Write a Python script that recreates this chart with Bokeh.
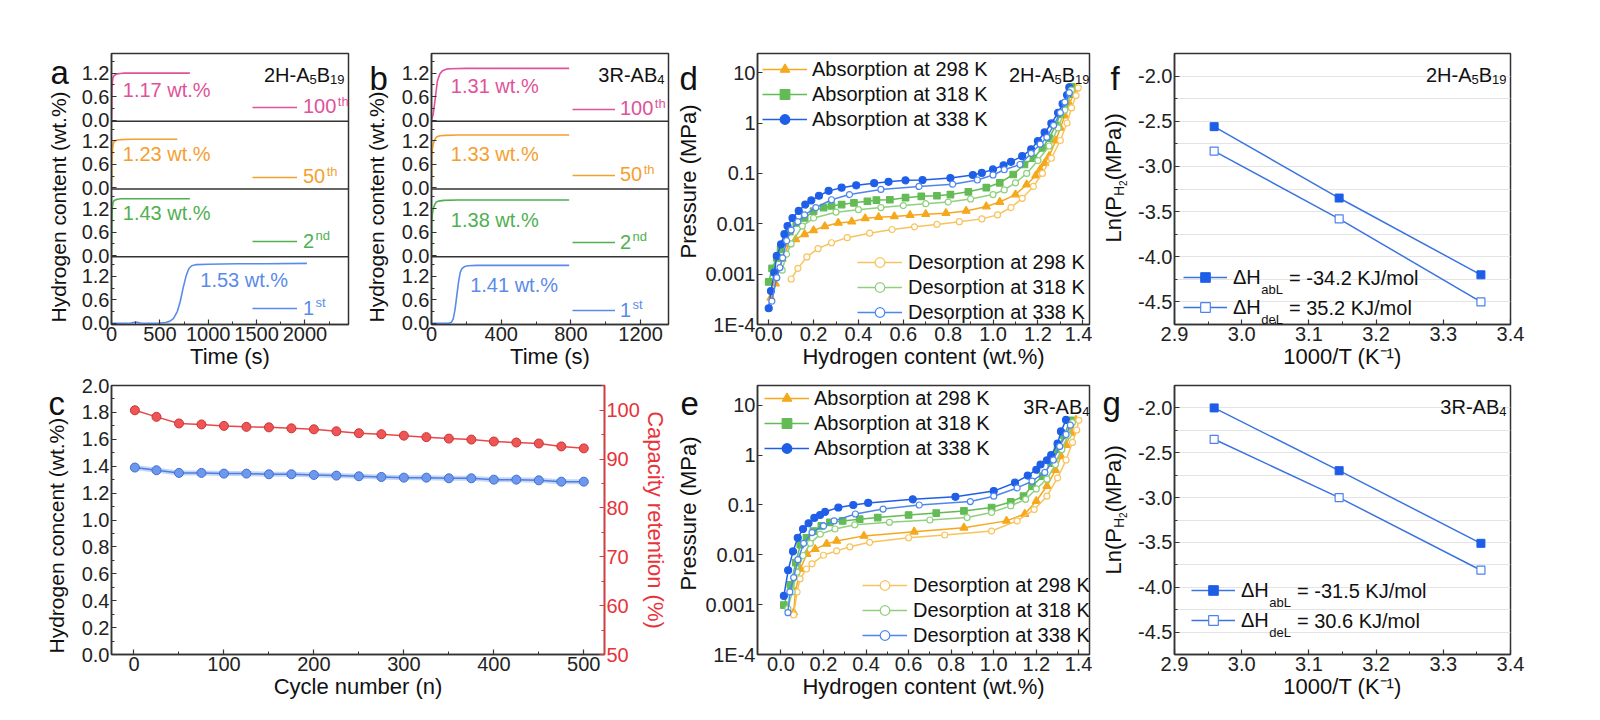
import math
from bokeh.plotting import figure
from bokeh.models import (Range1d, LinearAxis, FixedTicker, Label, Span, Legend,
                          LegendItem, NumeralTickFormatter)
from bokeh.layouts import row, column
from bokeh.embed import file_html
from bokeh.resources import INLINE

FONT = "Liberation Sans"
INK = "#333333"

# ======================= DATA =======================
# (a) 2H-A5B19 kinetics: time (s) / hydrogen content (wt.%)
a_t_1st = [0, 100, 200, 250, 300, 400, 500, 560, 600, 640, 680, 710, 740, 770, 800, 830, 880, 1000, 1300, 1600, 2020]
a_v_1st = [0.0, 0.0, 0.01, 0.03, 0.01, 0.0, 0.01, 0.02, 0.05, 0.12, 0.3, 0.55, 0.9, 1.2, 1.4, 1.47, 1.5, 1.51, 1.52, 1.52, 1.53]
a_t_2nd = [0, 3, 6, 10, 15, 25, 40, 60, 100, 200, 400, 810]
a_v_2nd = [0.05, 0.6, 1.05, 1.25, 1.35, 1.4, 1.42, 1.44, 1.45, 1.45, 1.45, 1.45]
a_t_50 = [0, 4, 8, 12, 18, 25, 40, 60, 100, 200, 400, 680]
a_v_50 = [0.1, 0.5, 0.85, 1.02, 1.12, 1.17, 1.2, 1.22, 1.23, 1.24, 1.24, 1.24]
a_t_100 = [0, 3, 6, 10, 15, 25, 40, 60, 90, 130, 200, 400, 600, 810]
a_v_100 = [0.02, 0.4, 0.8, 1.0, 1.08, 1.13, 1.16, 1.18, 1.19, 1.2, 1.2, 1.2, 1.2, 1.2]
a_caps = ["1.53 wt.%", "1.43 wt.%", "1.23 wt.%", "1.17 wt.%"]

# (b) 3R-AB4 kinetics
b_t_1st = [0, 50, 100, 115, 125, 135, 145, 155, 165, 175, 190, 210, 260, 400, 600, 790]
b_v_1st = [0.0, 0.0, 0.0, 0.03, 0.12, 0.35, 0.7, 1.05, 1.3, 1.4, 1.45, 1.47, 1.48, 1.48, 1.48, 1.48]
b_t_2nd = [0, 2, 5, 10, 18, 26, 40, 70, 150, 400, 790]
b_v_2nd = [0.0, 0.9, 1.05, 1.2, 1.3, 1.36, 1.39, 1.41, 1.42, 1.42, 1.42]
b_t_50 = [0, 2, 5, 10, 18, 26, 34, 50, 80, 150, 400, 790]
b_v_50 = [0.0, 0.85, 0.98, 1.12, 1.22, 1.28, 1.31, 1.33, 1.34, 1.35, 1.35, 1.35]
b_t_100 = [0, 10, 20, 34, 48, 63, 85, 111, 200, 400, 600, 790]
b_v_100 = [0.0, 0.15, 0.5, 1.0, 1.18, 1.26, 1.3, 1.31, 1.32, 1.32, 1.32, 1.32]
b_caps = ["1.41 wt.%", "1.38 wt.%", "1.33 wt.%", "1.31 wt.%"]

cycle_main = ["1", "2", "50", "100"]
cycle_sup = ["st", "nd", "th", "th"]

# (c) cycling
c_cycle = [1, 25, 50, 75, 100, 125, 150, 175, 200, 225, 250, 275, 300, 325, 350, 375, 400, 425, 450, 475, 500]
c_hc = [1.39, 1.37, 1.35, 1.35, 1.345, 1.345, 1.34, 1.34, 1.335, 1.33, 1.325, 1.32, 1.315, 1.315, 1.31, 1.31, 1.30, 1.30, 1.295, 1.285, 1.285]
c_ret = [100.0, 98.65, 97.3, 97.1, 96.8, 96.6, 96.5, 96.3, 96.1, 95.7, 95.3, 95.1, 94.8, 94.5, 94.2, 94.0, 93.6, 93.4, 93.2, 92.6, 92.2]

# (d) 2H-A5B19 PCT curves: hydrogen content (wt.%) / pressure (MPa)
d_abs298_x = [0.01, 0.03, 0.06, 0.09, 0.12, 0.16, 0.20, 0.25, 0.31, 0.37, 0.43, 0.49, 0.56, 0.63, 0.70, 0.79, 0.88, 0.97, 1.03, 1.10, 1.15, 1.19, 1.21, 1.23, 1.25, 1.28, 1.30, 1.32, 1.34, 1.36, 1.37]
d_abs298_p = [3.4e-4, 6.5e-4, 2.0e-3, 3.9e-3, 4.9e-3, 6.2e-3, 7.4e-3, 8.9e-3, 0.0104, 0.011, 0.0128, 0.0135, 0.014, 0.0148, 0.0155, 0.0162, 0.018, 0.022, 0.027, 0.038, 0.06, 0.09, 0.12, 0.16, 0.22, 0.45, 0.8, 1.4, 2.4, 3.8, 4.8]
d_abs318_x = [0.0, 0.015, 0.036, 0.053, 0.094, 0.123, 0.16, 0.2, 0.245, 0.28, 0.325, 0.38, 0.44, 0.48, 0.54, 0.61, 0.68, 0.75, 0.81, 0.89, 0.97, 1.03, 1.09, 1.14, 1.18, 1.22, 1.25, 1.28, 1.30, 1.32, 1.34, 1.35]
d_abs318_p = [7e-4, 1.3e-3, 2.1e-3, 3.1e-3, 7e-3, 0.0104, 0.013, 0.0178, 0.021, 0.0225, 0.024, 0.026, 0.028, 0.0295, 0.030, 0.033, 0.035, 0.036, 0.038, 0.043, 0.052, 0.065, 0.095, 0.15, 0.2, 0.32, 0.5, 0.9, 1.5, 2.4, 3.8, 5.2]
d_abs338_x = [0.0, 0.01, 0.025, 0.036, 0.055, 0.07, 0.084, 0.106, 0.134, 0.163, 0.19, 0.224, 0.267, 0.325, 0.39, 0.47, 0.534, 0.61, 0.686, 0.81, 0.91, 0.95, 1.0, 1.047, 1.08, 1.13, 1.17, 1.2, 1.23, 1.26, 1.29, 1.31, 1.33, 1.34]
d_abs338_p = [2.1e-4, 4.6e-4, 1.07e-3, 2.3e-3, 3.9e-3, 6.2e-3, 9e-3, 0.013, 0.018, 0.024, 0.029, 0.036, 0.045, 0.052, 0.058, 0.064, 0.068, 0.073, 0.074, 0.081, 0.093, 0.102, 0.12, 0.145, 0.17, 0.22, 0.3, 0.44, 0.65, 0.98, 1.6, 2.4, 3.6, 5.1]
d_des298_x = [0.1, 0.13, 0.17, 0.22, 0.28, 0.35, 0.45, 0.55, 0.65, 0.75, 0.85, 0.95, 1.02, 1.08, 1.13, 1.18, 1.22, 1.26, 1.30, 1.33, 1.35, 1.37, 1.38]
d_des298_p = [8e-4, 1.3e-3, 2.2e-3, 3.2e-3, 4.2e-3, 5.3e-3, 6.5e-3, 7.7e-3, 8.7e-3, 9.7e-3, 0.011, 0.0125, 0.015, 0.021, 0.032, 0.055, 0.1, 0.2, 0.45, 1.0, 2.0, 3.5, 5.0]
d_des318_x = [0.06, 0.08, 0.1, 0.15, 0.2, 0.3, 0.4, 0.5, 0.6, 0.7, 0.8, 0.9, 1.0, 1.05, 1.1, 1.15, 1.2, 1.25, 1.29, 1.32, 1.35]
d_des318_p = [1.2e-3, 2.5e-3, 4e-3, 9e-3, 0.013, 0.017, 0.019, 0.021, 0.023, 0.025, 0.027, 0.031, 0.038, 0.047, 0.065, 0.1, 0.18, 0.35, 0.8, 1.8, 4.5]
d_des338_x = [0.014, 0.036, 0.05, 0.062, 0.08, 0.1, 0.13, 0.16, 0.21, 0.28, 0.36, 0.5, 0.67, 0.82, 0.93, 1.0, 1.05, 1.12, 1.17, 1.21, 1.24, 1.27, 1.30, 1.32, 1.34]
d_des338_p = [2.9e-4, 8.5e-4, 1.35e-3, 2.1e-3, 4.6e-3, 7.5e-3, 0.011, 0.015, 0.021, 0.03, 0.038, 0.048, 0.055, 0.061, 0.074, 0.093, 0.118, 0.15, 0.25, 0.38, 0.52, 0.9, 1.6, 2.6, 4.0]

# (e) 3R-AB4 PCT curves
e_abs298_x = [0.06, 0.068, 0.091, 0.122, 0.161, 0.215, 0.262, 0.39, 0.626, 0.86, 1.06, 1.146, 1.2, 1.25, 1.29, 1.316, 1.34, 1.363, 1.386]
e_abs298_p = [7e-4, 1.8e-3, 5.2e-3, 0.0104, 0.013, 0.0166, 0.019, 0.024, 0.029, 0.035, 0.048, 0.066, 0.12, 0.24, 0.5, 0.95, 1.6, 2.8, 5.1]
e_abs318_x = [0.014, 0.045, 0.07, 0.091, 0.12, 0.153, 0.19, 0.23, 0.29, 0.37, 0.455, 0.6, 0.73, 0.86, 0.99, 1.08, 1.14, 1.18, 1.23, 1.27, 1.30, 1.33, 1.36]
e_abs318_p = [9.8e-4, 2.5e-3, 7e-3, 0.016, 0.022, 0.03, 0.038, 0.045, 0.048, 0.052, 0.056, 0.063, 0.069, 0.076, 0.089, 0.115, 0.15, 0.24, 0.38, 0.69, 1.3, 2.5, 5.0]
e_abs338_x = [0.014, 0.034, 0.057, 0.079, 0.104, 0.13, 0.157, 0.184, 0.208, 0.27, 0.34, 0.41, 0.62, 0.82, 1.0, 1.1, 1.16, 1.2, 1.22, 1.25, 1.27, 1.30, 1.316, 1.34]
e_abs338_p = [1.5e-3, 4.9e-3, 0.0117, 0.022, 0.033, 0.043, 0.055, 0.063, 0.073, 0.089, 0.10, 0.11, 0.13, 0.146, 0.19, 0.28, 0.39, 0.51, 0.65, 0.79, 1.0, 1.7, 3.0, 5.1]
e_des298_x = [0.06, 0.076, 0.09, 0.12, 0.146, 0.2, 0.262, 0.324, 0.417, 0.6, 0.77, 0.99, 1.11, 1.19, 1.25, 1.3, 1.34, 1.37, 1.39, 1.40]
e_des298_p = [6.2e-4, 1.8e-3, 3.3e-3, 5.2e-3, 6.6e-3, 9.8e-3, 0.012, 0.0145, 0.0178, 0.022, 0.025, 0.03, 0.048, 0.081, 0.15, 0.35, 0.8, 1.8, 3.2, 5.0]
e_des318_x = [0.033, 0.053, 0.076, 0.104, 0.138, 0.185, 0.254, 0.347, 0.51, 0.7, 0.875, 0.99, 1.08, 1.15, 1.2, 1.25, 1.29, 1.32, 1.35, 1.37]
e_des318_p = [8.3e-4, 1.8e-3, 4.5e-3, 9.7e-3, 0.017, 0.026, 0.033, 0.04, 0.045, 0.05, 0.056, 0.071, 0.096, 0.13, 0.21, 0.33, 0.65, 1.3, 2.5, 4.5]
e_des338_x = [0.033, 0.042, 0.06, 0.08, 0.107, 0.146, 0.2, 0.25, 0.35, 0.48, 0.65, 0.89, 1.0, 1.11, 1.18, 1.24, 1.28, 1.31, 1.34, 1.36]
e_des338_p = [6.9e-4, 1.8e-3, 3.5e-3, 8e-3, 0.017, 0.028, 0.038, 0.048, 0.066, 0.083, 0.1, 0.117, 0.15, 0.22, 0.3, 0.45, 0.8, 1.5, 2.6, 4.0]

pct_labels = ["Absorption at 298 K", "Absorption at 318 K", "Absorption at 338 K",
              "Desorption at 298 K", "Desorption at 318 K", "Desorption at 338 K"]

# (f), (g) van't Hoff
inv_T = [2.959, 3.145, 3.356]
f_abs = [-2.56, -3.35, -4.20]
f_des = [-2.83, -3.58, -4.50]
g_abs = [-2.00, -2.70, -3.51]
g_des = [-2.35, -3.00, -3.81]
dh_subs = ["abL", "deL"]
f_dh = ["= -34.2 KJ/mol", "=  35.2 KJ/mol"]
g_dh = ["= -31.5 KJ/mol", "=  30.6 KJ/mol"]

# ======================= STYLE =======================
PINK, ORANGE, GREEN, BLUE = "#E0529A", "#F4A030", "#4FB04F", "#5A8BEA"
D_OR, D_GR, D_BL = "#F6A81C", "#62BB55", "#1F5FE8"
D_OR2, D_GR2, D_BL2 = "#F8C35C", "#8FD07F", "#4D86EE"
RED = "#E8333A"

W = {' ': 278, '!': 278, '%': 889, '(': 333, ')': 333, '-': 333, '.': 278, '/': 278, '=': 584,
     'A': 667, 'B': 667, 'C': 722, 'D': 722, 'E': 667, 'H': 722, 'J': 500, 'K': 667, 'L': 556,
     'M': 833, 'P': 667, 'R': 722, 'T': 611, 'a': 556, 'b': 556, 'c': 500, 'd': 556, 'e': 556,
     'g': 556, 'h': 556, 'i': 222, 'l': 222, 'm': 833, 'n': 556, 'o': 556, 'p': 556, 'r': 333,
     's': 500, 't': 278, 'u': 556, 'w': 722, 'y': 500, '\u0394': 668}


def tw(s, size):
    return sum(W.get(ch, 556) for ch in s) / 1000.0 * size


def style_axis(ax, color=INK, label_color="#111111", tick_color="#222222"):
    ax.axis_line_color = color
    ax.axis_line_width = 1.5
    ax.major_tick_line_color = color
    ax.minor_tick_line_color = color
    ax.major_tick_line_width = 1.2
    ax.minor_tick_line_width = 1
    ax.major_tick_in = 5
    ax.major_tick_out = 0
    ax.minor_tick_in = 3
    ax.minor_tick_out = 0
    ax.major_label_text_font = FONT
    ax.major_label_text_font_size = "20px"
    ax.major_label_text_color = tick_color
    ax.major_label_standoff = 2
    ax.axis_label_text_font = FONT
    ax.axis_label_text_font_size = "22px"
    ax.axis_label_text_font_style = "normal"
    ax.axis_label_text_color = label_color
    ax.axis_label_standoff = 0


def base_fig(w, h, mbl, mbr, mbt, mbb, xr, yr, y_type="linear"):
    p = figure(width=w, height=h, x_range=xr, y_range=yr, y_axis_type=y_type,
               output_backend="svg", toolbar_location=None, title=None,
               min_border_left=mbl, min_border_right=mbr, min_border_top=mbt, min_border_bottom=mbb)
    p.xgrid.visible = False
    p.ygrid.visible = False
    p.outline_line_color = INK
    p.outline_line_width = 1.5
    p.outline_line_alpha = 1.0
    p.background_fill_color = "white"
    p.border_fill_color = "white"
    for ax in list(p.xaxis) + list(p.yaxis):
        style_axis(ax)
    return p


def strip(w, h):
    # text-only strip; its frame is aligned with the frames of the row it sits in
    s = figure(width=w, height=h, x_range=Range1d(0, w), y_range=Range1d(0, h),
               output_backend="svg", toolbar_location=None, title=None, min_border=0,
               x_axis_location=None, y_axis_location=None)
    s.outline_line_color = None
    s.xgrid.visible = False
    s.ygrid.visible = False
    s.background_fill_color = "white"
    s.border_fill_color = "white"
    return s


def lab(p, text, x, y, size, color="#111111", units="screen", align="left",
        baseline="alphabetic", angle=0.0):
    p.add_layout(Label(x=x, y=y, x_units=units, y_units=units, text=text, text_font=FONT,
                       text_font_size=f"{size}px", text_color=color, text_align=align,
                       text_baseline=baseline, angle=angle))


def rich(p, parts, x0, y0, align="left", color="#111111"):
    total = sum(tw(t, s) for t, s, d in parts)
    x = x0 - total if align == "right" else x0
    for t, s, d in parts:
        lab(p, t, x, y0 + d, s, color)
        x += tw(t, s)


def make_legend(p, items, loc, gw, so, spacing, color="#111111", size=20):
    lg = Legend(items=[LegendItem(label=t, renderers=rs) for t, rs in items], location=loc,
                orientation="vertical", padding=0, margin=0, spacing=spacing,
                glyph_width=gw, glyph_height=24, label_height=24, label_standoff=so,
                label_text_font=FONT, label_text_font_size=f"{size}px",
                label_text_color=color, border_line_alpha=0, background_fill_alpha=0)
    p.add_layout(lg)
    return lg


def vtitle(s, text, xc, y_start, size=22):
    # rotated (bottom-to-top) axis title starting at y_start (from frame bottom)
    lab(s, text, xc, y_start, size, align="left", baseline="middle", angle=math.pi / 2)


LN_PARTS = [("Ln(P", 22, 0), ("H", 14, 5), ("2", 10, 9), ("(MPa))", 22, 0)]


def ln_title(s, xc, y_start):
    yy = y_start
    for t, sz, d in LN_PARTS:
        lab(s, t, xc + d, yy, sz, align="left", baseline="middle", angle=math.pi / 2)
        yy += tw(t, sz)


FH = 271      # top-row frame height
FH2 = 269     # bottom-row frame height
H = 1.73
Y0 = -0.03
TOP_T, TOP_B = 53, 49
BOT_T, BOT_B = 12, 52
TOP_H = TOP_T + FH + TOP_B      # 373
BOT_H = BOT_T + FH2 + BOT_B     # 333


# ======================= (a), (b) =======================
def kinetics(w, mbl, mbr, xmax, xt, xmn, series, caps, cap_xy, leg_x, leg_gw, leg_so, leg_dy, corner):
    p = base_fig(w, TOP_H, mbl, mbr, TOP_T, TOP_B, Range1d(0, xmax), Range1d(Y0, 4 * H + Y0))
    fw = w - mbl - mbr
    yt = [k * H + v for k in range(4) for v in (0.0, 0.6, 1.2)]
    ym = [k * H + v for k in range(4) for v in (0.3, 0.9, 1.5)]
    p.yaxis.ticker = FixedTicker(ticks=yt, minor_ticks=ym)
    p.yaxis.major_label_overrides = {k * H + v: f"{v:.1f}" for k in range(4) for v in (0.0, 0.6, 1.2)}
    p.xaxis.ticker = FixedTicker(ticks=xt, minor_ticks=xmn)
    p.xaxis.axis_label = "Time (s)"
    sub_h = FH / 4.0
    for k, (t, v, col) in enumerate(series):
        r = p.line(t, [val + k * H for val in v], line_color=col, line_width=1.6)
        yc = k * sub_h + leg_dy[k]
        make_legend(p, [(cycle_main[k], [r])], (leg_x, yc - 12), leg_gw, leg_so, 0, color=col)
        lab(p, cycle_sup[k], leg_x + leg_gw + leg_so + tw(cycle_main[k], 20) + 1, yc + 6, 13, col,
            baseline="middle")
        lab(p, caps[k], cap_xy[k][0], cap_xy[k][1] + k * H, 20, col, units="data", baseline="middle")
    for k in (1, 2, 3):
        p.add_layout(Span(location=k * H + Y0, dimension="width", line_color=INK, line_width=1.5))
    rich(p, corner, fw - 4, FH - 21, align="right")
    return p


pa = kinetics(278, 39, 2, 2450, [0, 500, 1000, 1500, 2000], [250, 750, 1250, 1750, 2250],
              [(a_t_1st, a_v_1st, BLUE), (a_t_2nd, a_v_2nd, GREEN), (a_t_50, a_v_50, ORANGE),
               (a_t_100, a_v_100, PINK)],
              a_caps, [(918, 1.10), (117, 1.08), (117, 0.87), (117, 0.78)],
              141, 45, 6, [16, 15, 12, 14],
              [("2H-A", 20, 0), ("5", 13, -5), ("B", 20, 0), ("19", 13, -5)])

pb = kinetics(280, 41, 2, 1360, [0, 400, 800, 1200], [200, 600, 1000],
              [(b_t_1st, b_v_1st, BLUE), (b_t_2nd, b_v_2nd, GREEN), (b_t_50, b_v_50, ORANGE),
               (b_t_100, b_v_100, PINK)],
              b_caps, [(222, 0.98), (111, 0.92), (111, 0.87), (111, 0.87)],
              141, 43, 5, [14, 14, 14, 12],
              [("3R-AB", 20, 0), ("4", 13, -5)])

# ======================= (c) =======================
pc = base_fig(598, BOT_H, 39, 64, BOT_T, BOT_B, Range1d(-25, 523), Range1d(0, 2.0))
pc.extra_y_ranges = {"ret": Range1d(50, 105.07)}
rax = LinearAxis(y_range_name="ret", axis_label="Capacity retention (%)")
style_axis(rax, color=RED, label_color=RED, tick_color=RED)
rax.ticker = FixedTicker(ticks=[50, 60, 70, 80, 90, 100], minor_ticks=[55, 65, 75, 85, 95, 105])
pc.add_layout(rax, "right")
pc.yaxis[0].ticker = FixedTicker(ticks=[i / 5 for i in range(11)], minor_ticks=[i / 5 + 0.1 for i in range(10)])
pc.yaxis[0].formatter = NumeralTickFormatter(format="0.0")
pc.xaxis.ticker = FixedTicker(ticks=[0, 100, 200, 300, 400, 500], minor_ticks=[50, 150, 250, 350, 450])
pc.xaxis.axis_label = "Cycle number (n)"
pc.line(c_cycle, c_hc, line_color="#B4CBF6", line_width=5, line_alpha=0.8)
pc.line(c_cycle, c_hc, line_color="#4D7FE0", line_width=1.5)
pc.scatter(c_cycle, c_hc, marker="circle", size=9, fill_color="#6E98EC", line_color="#3F6FD6")
pc.line(c_cycle, c_ret, y_range_name="ret", line_color="#E8474A", line_width=1.5)
pc.scatter(c_cycle, c_ret, y_range_name="ret", marker="circle", size=9, fill_color="#F05555",
           line_color="#C93434")


# ======================= (d), (e) =======================
def pct(h, mbt, mbb, fh, xr, yr, curves, abs_loc, des_loc, corner):
    w, mbl, mbr = 390, 51, 3
    p = base_fig(w, h, mbl, mbr, mbt, mbb, xr, yr, y_type="log")
    fw = w - mbl - mbr
    ticks = [1e-4, 1e-3, 1e-2, 0.1, 1, 10]
    p.yaxis.ticker = FixedTicker(ticks=ticks)
    p.yaxis.major_label_overrides = {1e-4: "1E-4", 1e-3: "0.001", 1e-2: "0.01", 0.1: "0.1", 1: "1", 10: "10"}
    p.xaxis.ticker = FixedTicker(ticks=[0.0, 0.2, 0.4, 0.6, 0.8, 1.0, 1.2, 1.4],
                                 minor_ticks=[0.1, 0.3, 0.5, 0.7, 0.9, 1.1, 1.3])
    p.xaxis.formatter = NumeralTickFormatter(format="0.0")
    p.xaxis.axis_label = "Hydrogen content (wt.%)"
    rends = []
    for (x, y, col, mk, sz, fill) in curves:
        ln = p.line(x, y, line_color=col, line_width=1.5)
        sc = p.scatter(x, y, marker=mk, size=sz, fill_color=fill, line_color=col, line_width=1.2)
        rends.append([ln, sc])
    make_legend(p, [(pct_labels[i], rends[i]) for i in range(3)], abs_loc, 45, 5, 1)
    make_legend(p, [(pct_labels[i], rends[i]) for i in range(3, 6)], des_loc, 45, 6, 1)
    rich(p, corner, fw - 4, fh - 21, align="right")
    return p


d_curves = [(d_abs298_x, d_abs298_p, D_OR, "triangle", 8, D_OR),
            (d_abs318_x, d_abs318_p, D_GR, "square", 6.5, D_GR),
            (d_abs338_x, d_abs338_p, D_BL, "circle", 7, D_BL),
            (d_des298_x, d_des298_p, D_OR2, "circle", 6, "white"),
            (d_des318_x, d_des318_p, D_GR2, "circle", 6, "white"),
            (d_des338_x, d_des338_p, D_BL2, "circle", 6, "white")]
e_curves = [(e_abs298_x, e_abs298_p, D_OR, "triangle", 8, D_OR),
            (e_abs318_x, e_abs318_p, D_GR, "square", 6.5, D_GR),
            (e_abs338_x, e_abs338_p, D_BL, "circle", 7, D_BL),
            (e_des298_x, e_des298_p, D_OR2, "circle", 6, "white"),
            (e_des318_x, e_des318_p, D_GR2, "circle", 6, "white"),
            (e_des338_x, e_des338_p, D_BL2, "circle", 6, "white")]

pd_ = pct(TOP_H, TOP_T, TOP_B, FH, Range1d(-0.05, 1.43), Range1d(1e-4, 24), d_curves, (5, 193), (100, 0),
          [("2H-A", 20, 0), ("5", 13, -5), ("B", 20, 0), ("19", 13, -5)])
pe = pct(BOT_H, BOT_T, BOT_B, FH2, Range1d(-0.11, 1.45), Range1d(1e-4, 25), e_curves, (7, 194), (105, 7),
         [("3R-AB", 20, 0), ("4", 13, -5)])


# ======================= (f), (g) =======================
def vant_hoff(h, mbt, mbb, fh, ab, de, leg_loc, dh_vals, corner):
    w, mbl, mbr = 395, 44, 15
    p = base_fig(w, h, mbl, mbr, mbt, mbb, Range1d(2.9, 3.4), Range1d(-4.75, -1.75))
    fw = w - mbl - mbr
    p.ygrid.visible = True
    p.ygrid.ticker = FixedTicker(ticks=[-4.5 + 0.25 * i for i in range(11)])
    p.ygrid.grid_line_color = "#E4E4E4"
    p.ygrid.grid_line_width = 1
    p.yaxis.ticker = FixedTicker(ticks=[-4.5, -4.0, -3.5, -3.0, -2.5, -2.0],
                                 minor_ticks=[-4.25, -3.75, -3.25, -2.75, -2.25])
    p.yaxis.formatter = NumeralTickFormatter(format="0.0")
    p.xaxis.ticker = FixedTicker(ticks=[2.9, 3.0, 3.1, 3.2, 3.3, 3.4],
                                 minor_ticks=[2.95, 3.05, 3.15, 3.25, 3.35])
    p.xaxis.formatter = NumeralTickFormatter(format="0.0")
    p.xaxis.axis_label = "1000/T (K\u207b\u00b9)"
    l1 = p.line(inv_T, ab, line_color="#3A74E0", line_width=1.5)
    s1 = p.scatter(inv_T, ab, marker="square", size=8, fill_color="#1E5EE6", line_color="#1E5EE6")
    l2 = p.line(inv_T, de, line_color="#3A74E0", line_width=1.5)
    s2 = p.scatter(inv_T, de, marker="square", size=8, fill_color="white", line_color="#4C83EA",
                   line_width=1.2)
    gw, so, sp = 44, 6, 6
    make_legend(p, [("\u0394H", [l1, s1]), ("\u0394H", [l2, s2])], leg_loc, gw, so, sp)
    x_sub = leg_loc[0] + gw + so + tw("\u0394H", 20)
    for i in range(2):
        yc = leg_loc[1] + 12 + (1 - i) * (24 + sp)
        lab(p, dh_subs[i], x_sub, yc - 12, 13)
        lab(p, dh_vals[i], x_sub + tw(dh_subs[i], 13) + 6, yc, 20, baseline="middle")
    rich(p, corner, fw - 4, fh - 21, align="right")
    return p


pf = vant_hoff(TOP_H, TOP_T, TOP_B, FH, f_abs, f_des, (9, 5), f_dh,
               [("2H-A", 20, 0), ("5", 13, -5), ("B", 20, 0), ("19", 13, -5)])
pg = vant_hoff(BOT_H, BOT_T, BOT_B, FH2, g_abs, g_des, (17, 22), g_dh,
               [("3R-AB", 20, 0), ("4", 13, -5)])

# ======================= text strips (panel letters, y-axis titles) =======================
# coordinates: x from strip left, y up from the (row-aligned) frame bottom
s_a = strip(72, TOP_H)
lab(s_a, "a", 50, FH - 19, 33)
vtitle(s_a, "Hydrogen content (wt.%)", 58, 2, size=21)

s_b = strip(40, TOP_H)
lab(s_b, "b", 19, FH - 25, 33)
vtitle(s_b, "Hydrogen content (wt.%)", 26, 2, size=21)

s_d = strip(32, TOP_H)
lab(s_d, "d", 9, FH - 25, 33)
vtitle(s_d, "Pressure (MPa)", 18, 66)

s_f = strip(38, TOP_H)
lab(s_f, "f", 18, FH - 25, 33)
ln_title(s_f, 21, 82)

s_c = strip(72, BOT_H)
lab(s_c, "c", 48, FH2 - 18, 33)
vtitle(s_c, "Hydrogen concent (wt.%)", 56, 1, size=21)

s_e = strip(32, BOT_H)
lab(s_e, "e", 10, FH2 - 18, 33)
vtitle(s_e, "Pressure (MPa)", 18, 64)

s_g = strip(38, BOT_H)
lab(s_g, "g", 10, FH2 - 18, 33)
ln_title(s_g, 21, 80)

layout = column(row(s_a, pa, s_b, pb, s_d, pd_, s_f, pf),
                row(s_c, pc, s_e, pe, s_g, pg))
open("out.html", "w").write(file_html(layout, INLINE))
